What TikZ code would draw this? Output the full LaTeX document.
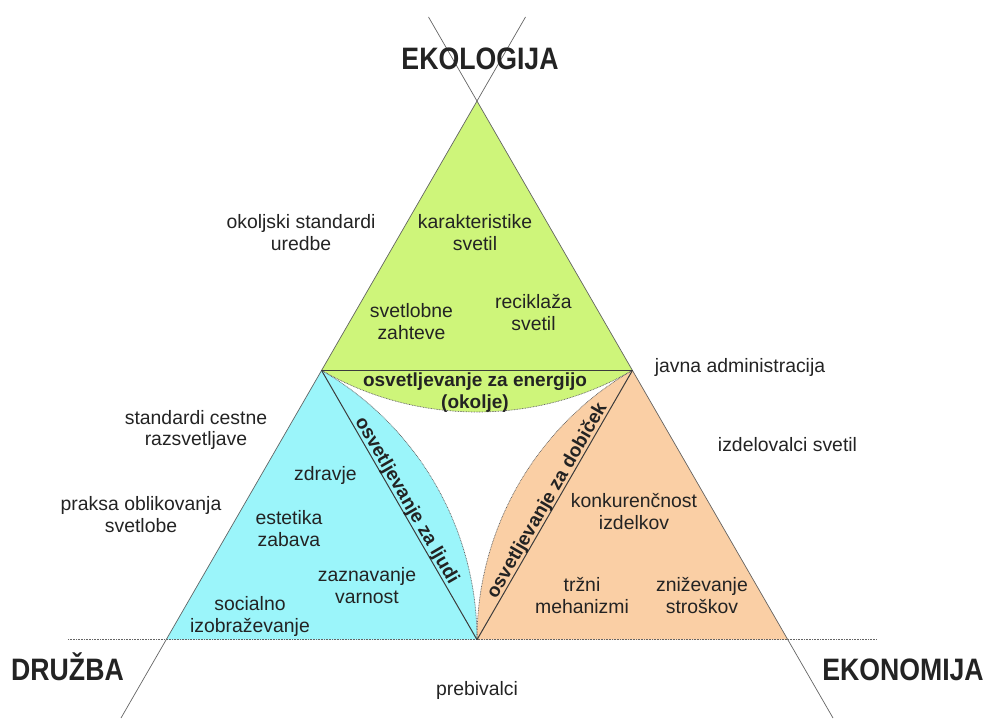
\documentclass[tikz,border=0pt]{standalone}
\usepackage{fontspec}
\setmainfont{Liberation Sans}
\newfontfamily\titlefont{Liberation Sans}[FakeStretch=0.86]
\definecolor{grn}{RGB}{206,245,122}
\definecolor{cyn}{RGB}{155,245,250}
\definecolor{org}{RGB}{250,207,165}
\definecolor{txt}{RGB}{35,35,35}
\definecolor{lin}{RGB}{60,60,60}
\definecolor{outl}{RGB}{100,100,100}
\begin{document}
\begin{tikzpicture}[x=1pt,y=1pt,
  lbl/.style={font=\fontsize{19.4}{21.5}\selectfont, text=txt, align=center, inner sep=0pt},
  blbl/.style={font=\bfseries\fontsize{19}{21.5}\selectfont, text=txt, align=center, inner sep=0pt},
  rlbl/.style={font=\bfseries\fontsize{19}{21.5}\selectfont, text=txt, inner sep=0pt, anchor=base},
  ttl/.style={font=\titlefont\bfseries\fontsize{31}{36}\selectfont, text=txt, inner sep=0pt, anchor=base},
  innerline/.style={draw=lin, line width=1pt},
  outerline/.style={draw=outl, line width=0.7pt},
  arcline/.style={draw=outl, line width=0.7pt, dash pattern=on 0.8pt off 0.8pt},
  baseline/.style={draw=outl, line width=0.8pt, dash pattern=on 0.8pt off 0.8pt}]
\useasboundingbox (0,0) rectangle (987,718);
% geometry
\coordinate (A) at (477,617);
\coordinate (ML) at (321.5,347.7);
\coordinate (MR) at (632.5,347.7);
\coordinate (L) at (166,78.3);
\coordinate (R) at (788,78.3);
\coordinate (MB) at (477,78.3);
\coordinate (T1) at (428.5,701);
\coordinate (E1) at (833,0);
\coordinate (T2) at (525.5,701);
\coordinate (E2) at (121,0);
\coordinate (BL) at (68,78.3);
\coordinate (BR) at (877,78.3);
\coordinate (MLB) at (402.2,214.7);
\coordinate (MBR) at (551.8,214.7);
% fills
\fill[grn] (A) -- (ML) arc[start angle=240,end angle=300,radius=311] -- cycle;
\fill[cyn] (L) -- (MB) arc[start angle=0,end angle=60,radius=311] -- cycle;
\fill[org] (R) -- (MR) arc[start angle=120,end angle=180,radius=311] -- cycle;
% arcs
\draw[arcline] (ML) arc[start angle=240,end angle=300,radius=311];
\draw[arcline] (MB) arc[start angle=0,end angle=60,radius=311];
\draw[arcline] (MR) arc[start angle=120,end angle=180,radius=311];
% lines
\draw[baseline] (BL) -- (BR);
\draw[outerline] (T1) -- (E1);
\draw[outerline] (T2) -- (E2);
\draw[innerline] (ML) -- (MR);
\draw[innerline] (ML) -- (MB);
\draw[innerline] (MB) -- (MR);
% titles
\node[ttl] (eko) at (480,648) {EKOLOGIJA};
\node[ttl] (dru) at (67.5,38) {DRUŽBA};
\node[ttl] (ekn) at (903,38) {EKONOMIJA};
% labels
\node[lbl] (oko) at (301,485.25) {okoljski standardi\\uredbe};
\node[lbl] (kar) at (475,485.25) {karakteristike\\svetil};
\node[lbl] (svz) at (411.5,396.25) {svetlobne\\zahteve};
\node[lbl] (rec) at (533.5,405.25) {reciklaža\\svetil};
\node[blbl] (ene) at (475,325.5) {osvetljevanje za energijo\\(okolje)};
\node[lbl] (jav) at (740,351) {javna administracija};
\node[lbl] (std) at (196,288.25) {standardi cestne\\razsvetljave};
\node[lbl] (izd) at (787.5,273.3) {izdelovalci svetil};
\node[lbl] (zdr) at (325.5,243) {zdravje};
\node[lbl] (pra) at (141,203.5) {praksa oblikovanja\\svetlobe};
\node[lbl] (est) at (289,189.25) {estetika\\zabava};
\node[lbl] (kon) at (634,206.25) {konkurenčnost\\izdelkov};
\node[lbl] (zaz) at (367,132.25) {zaznavanje\\varnost};
\node[lbl] (trz) at (582,122.25) {tržni\\mehanizmi};
\node[lbl] (zni) at (702,122.25) {zniževanje\\stroškov};
\node[lbl] (soc) at (250,101.5) {socialno\\izobraževanje};
\node[lbl] (pre) at (477,28) {prebivalci};
% rotated labels
\node[rlbl, rotate=-60] (lju) at (MLB) {osvetljevanje za ljudi};
\node[rlbl, rotate=60] (dob) at (MBR) {osvetljevanje za dobiček};
\end{tikzpicture}
\end{document}
